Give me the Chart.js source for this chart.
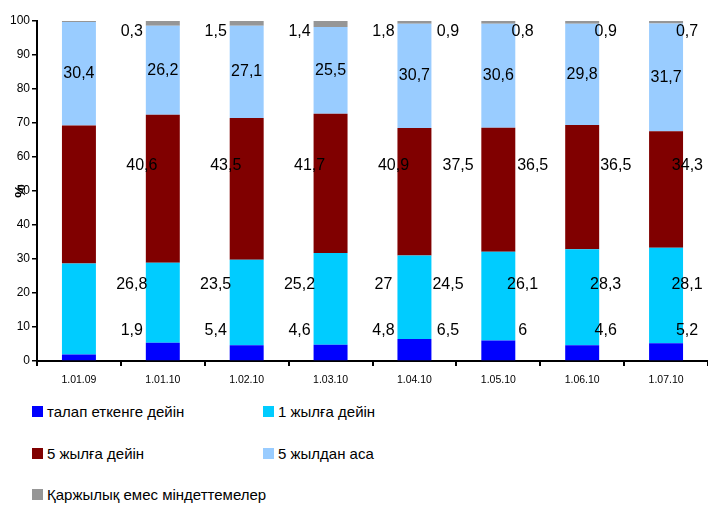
<!DOCTYPE html>
<html>
<head>
<meta charset="utf-8">
<script src="https://cdn.jsdelivr.net/npm/chart.js@4.4.1/dist/chart.umd.min.js"></script>
<style>
    body { margin: 0; background: #fff; }
    #marco { position: relative; width: 708px; height: 505px; }
    #cajaGrafico { position: absolute; left: 0; top: 0; width: 708px; height: 392px; }
    .itemLeyenda { position: absolute; font-size: 15px; font-family: "Liberation Sans", Arial, sans-serif; color: #000; white-space: nowrap; line-height: 20px; }
    .itemLeyenda span { display: inline-block; width: 11px; height: 11px; margin-right: 4px; vertical-align: 0px; }
</style>
</head>
<body>
<div id="marco">
    <div id="cajaGrafico"><canvas id="grafico"></canvas></div>
    <div id="leyenda"></div>
</div>
<script>
var fechas = ['1.01.09', '1.01.10', '1.02.10', '1.03.10', '1.04.10', '1.05.10', '1.06.10', '1.07.10'];

var talapEtkenge = [1.9, 5.4, 4.6, 4.8, 6.5, 6, 4.6, 5.2];
var birJylga     = [26.8, 23.5, 25.2, 27, 24.5, 26.1, 28.3, 28.1];
var besJylga     = [40.6, 43.5, 41.7, 40.9, 37.5, 36.5, 36.5, 34.3];
var besJyldanAsa = [30.4, 26.2, 27.1, 25.5, 30.7, 30.6, 29.8, 31.7];
var qarjylyqEmes = [0.3, 1.5, 1.4, 1.8, 0.9, 0.8, 0.9, 0.7];

var nombres = ['талап еткенге дейін', '1 жылға дейін', '5 жылға дейін', '5 жылдан аса', 'Қаржылық емес міндеттемелер'];
var colores = ['#0000FF', '#00CCFF', '#800000', '#99CCFF', '#969696'];

// donde caen las etiquetas en el original (desplazadas a la derecha de cada barra)
var corrimiento = [0.63, 0.63, 0.63, 0.63, 0.4, 0.29, 0.28, 0.25];
var nivelEtiqueta = [9, 22.5, 57.5, null, 97];   // null = centro del segmento
var extraX = [0, 0, 0.12, 0, 0];

var fuente = '"Liberation Sans", Arial, sans-serif';

var series = [talapEtkenge, birJylga, besJylga, besJyldanAsa, qarjylyqEmes];
var conjuntos = [];
for (var i = 0; i < series.length; i++) {
    conjuntos.push({
        label: nombres[i],
        data: series[i],
        backgroundColor: colores[i],
        borderWidth: 0,
        categoryPercentage: 1,
        barPercentage: 0.405
    });
}

function formato(v) {
    return String(v).replace('.', ',');
}

var etiquetas = {
    id: 'etiquetas',
    afterDatasetsDraw: function (chart) {
        var ctx = chart.ctx, ex = chart.scales.x, ey = chart.scales.y;
        var ancho = (ex.right - ex.left) / fechas.length;
        ctx.save();
        ctx.font = '16px ' + fuente;
        ctx.fillStyle = '#000';
        ctx.textAlign = 'center';
        ctx.textBaseline = 'middle';
        chart.data.datasets.forEach(function (ds, i) {
            var meta = chart.getDatasetMeta(i);
            ds.data.forEach(function (v, j) {
                var barra = meta.data[j];
                var texto = formato(v);
                var x, y;
                if (nivelEtiqueta[i] === null) {
                    x = barra.x;
                    y = (barra.y + barra.base) / 2;
                } else {
                    x = barra.x + (corrimiento[j] + extraX[i]) * ancho;
                    y = ey.getPixelForValue(nivelEtiqueta[i]);
                }
                // que no se salga por la derecha
                var medio = ctx.measureText(texto).width / 2;
                if (x + medio > chart.width - 5) x = chart.width - 5 - medio;
                ctx.fillText(texto, x, y);
            });
        });
        // titulo del eje, encima de la marca del 50 como en el original
        ctx.font = 'bold 15px ' + fuente;
        ctx.translate(ey.left + 21, (ey.top + ey.bottom) / 2);
        ctx.rotate(-Math.PI / 2);
        ctx.fillText('%', 0, 0);
        ctx.restore();
    }
};

var ctx = document.getElementById('grafico').getContext('2d');
var chart = new Chart(ctx, {
    type: 'bar',
    data: { labels: fechas, datasets: conjuntos },
    options: {
        responsive: true,
        maintainAspectRatio: false,
        animation: false,
        layout: { padding: { top: 21, right: 0, bottom: 0, left: 0 } },
        plugins: {
            legend: { display: false },
            tooltip: { enabled: false }
        },
        scales: {
            x: {
                stacked: true,
                afterFit: function (scale) { scale.height = 31; },
                grid: { offset: true, drawOnChartArea: false, tickLength: 5, color: '#000', lineWidth: 2 },
                border: { display: true, color: '#000', width: 2 },
                ticks: { color: '#000', padding: 8, maxRotation: 0, font: { family: fuente, size: 10.5 } }
            },
            y: {
                stacked: true,
                min: 0,
                max: 100,
                afterFit: function (scale) { scale.width = 37; },
                grid: { drawOnChartArea: false, tickLength: 5, color: '#000', lineWidth: 1.5 },
                border: { display: true, color: '#000', width: 2 },
                ticks: { stepSize: 10, color: '#000', padding: 2, font: { family: fuente, size: 12 } }
            }
        }
    },
    plugins: [etiquetas]
});

// leyenda en dos columnas, armada con los datos del grafico
var leyenda = document.getElementById('leyenda');
chart.data.datasets.forEach(function (ds, i) {
    var item = document.createElement('div');
    item.className = 'itemLeyenda';
    item.style.left = (i % 2 === 0 ? 32 : 263) + 'px';
    item.style.top = (402 + Math.floor(i / 2) * 41.5) + 'px';
    item.innerHTML = '<span style="background:' + ds.backgroundColor + '"></span>' + ds.label;
    leyenda.appendChild(item);
});
</script>
</body>
</html>
